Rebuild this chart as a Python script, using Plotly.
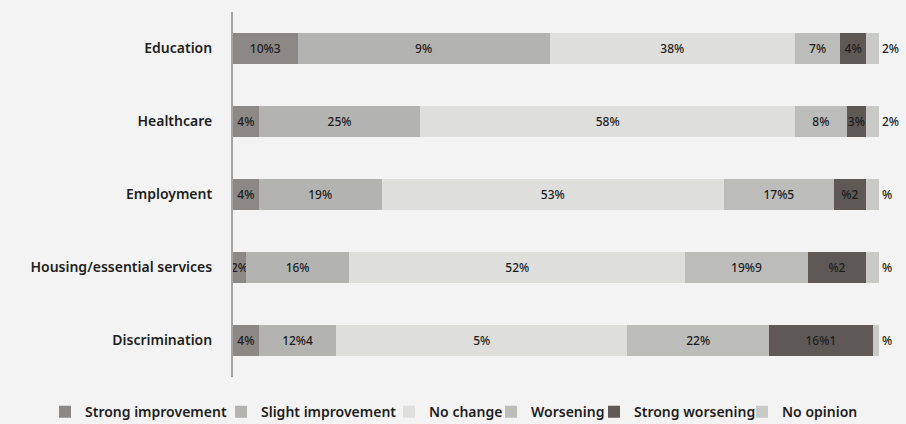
import plotly.graph_objects as go

categories = ["Education", "Healthcare", "Employment", "Housing/essential services", "Discrimination"]
series_names = ["Strong improvement", "Slight improvement", "No change", "Worsening", "Strong worsening", "No opinion"]

strong_improvement = [10, 4, 4, 2, 4]
slight_improvement = [39, 25, 19, 16, 12]
no_change = [38, 58, 53, 52, 45]
worsening = [7, 8, 17, 19, 22]
strong_worsening = [4, 3, 5, 9, 16]
no_opinion = [2, 2, 2, 2, 1]

# labels as they appear on the reference chart
lbl_strong_improvement = ["10%3", "4%", "4%", "2%", "4%"]
lbl_slight_improvement = ["9%", "25%", "19%", "16%", "12%4"]
lbl_no_change = ["38%", "58%", "53%", "52%", "5%"]
lbl_worsening = ["7%", "8%", "17%5", "19%9", "22%"]
lbl_strong_worsening = ["4%", "3%", "%2", "%2", "16%1"]
lbl_no_opinion = ["2%", "2%", "%", "%", "%"]

colors = ["#8b8886", "#b3b3b1", "#dededc", "#bcbcba", "#5e5955", "#c9c9c8"]
text_positions = ["inside", "inside", "inside", "inside", "inside", "outside"]

values = [strong_improvement, slight_improvement, no_change, worsening, strong_worsening, no_opinion]
labels = [lbl_strong_improvement, lbl_slight_improvement, lbl_no_change, lbl_worsening, lbl_strong_worsening, lbl_no_opinion]

W, H = 906, 424
# legend text start positions (px) for each entry
legend_text_x = [85, 261, 429, 531, 634, 782]
legend_keys = ["legend", "legend2", "legend3", "legend4", "legend5", "legend6"]

fig = go.Figure()
for i, (name, vals, lbls, col) in enumerate(zip(series_names, values, labels, colors)):
    fig.add_trace(go.Bar(
        name=name, y=categories, x=vals, orientation="h",
        marker=dict(color=col, line=dict(width=0)),
        text=lbls, textposition=text_positions[i], insidetextanchor="middle", textangle=0,
        textfont=dict(family="Noto Sans", size=12, weight=500, color="#1e1e1e"),
        constraintext="none", cliponaxis=False, legend=legend_keys[i],
    ))

legend_style = dict(
    orientation="h", xref="container", yref="container",
    xanchor="left", y=0.028, yanchor="middle",
    font=dict(family="Noto Sans", size=14, weight=600, color="#1e1e1e"),
    itemwidth=30, bgcolor="rgba(0,0,0,0)", borderwidth=0,
)
legends = {}
for key, tx in zip(legend_keys, legend_text_x):
    legends[key] = dict(legend_style, x=(tx - 40) / W)

fig.update_layout(
    barmode="stack",
    bargap=0.58,
    width=W, height=H,
    margin=dict(l=233, r=27, t=12, b=47),
    paper_bgcolor="#f3f3f3", plot_bgcolor="#f3f3f3",
    font=dict(family="Noto Sans", color="#1e1e1e"),
    uniformtext=dict(minsize=12, mode="show"),
    showlegend=True,
    xaxis=dict(range=[0, 100], visible=False, fixedrange=True),
    yaxis=dict(
        autorange="reversed", showline=True, linecolor="#a3a3a3", linewidth=2,
        ticks="", showgrid=False, zeroline=False, ticklabelstandoff=16,
        tickfont=dict(family="Noto Sans", size=14, weight=600, color="#1e1e1e"),
        fixedrange=True,
    ),
    **legends,
)

fig.write_html(
    "out.html",
    config={"displayModeBar": False},
    post_script="document.body.style.margin='0';document.body.style.background='#f3f3f3';",
)
